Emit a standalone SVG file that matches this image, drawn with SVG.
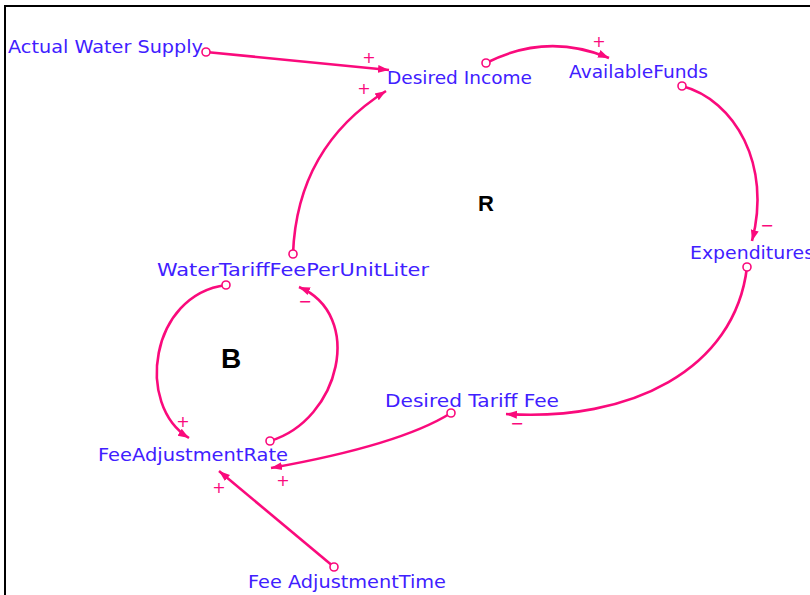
<svg xmlns="http://www.w3.org/2000/svg" width="810" height="595" viewBox="0 0 810 595">
  <style>
    .var { font-family: "DejaVu Sans", "Liberation Sans", sans-serif; font-size: 18px; fill: #4020ff; }
    .loop { font-family: "Liberation Sans", Arial, sans-serif; font-weight: bold; fill: #000; }
    .link { fill: none; stroke: #fa0a7c; stroke-width: 2.6; marker-end: url(#head); }
    .tail { fill: #fff; stroke: #fa0a7c; stroke-width: 1.6; }
    .sign { font-family: "DejaVu Sans", "Liberation Sans", sans-serif; font-size: 16px; fill: #fa0a7c; text-anchor: middle; dominant-baseline: central; }
  </style>
  <defs>
    <marker id="head" markerUnits="userSpaceOnUse" markerWidth="12" markerHeight="10" refX="11" refY="5" orient="auto">
      <path d="M0,1 L11,5 L0,9 z" fill="#fa0a7c"/>
    </marker>
  </defs>

  <rect width="810" height="595" fill="#fff"/>
  <!-- frame -->
  <path d="M5,595 V6 H810" fill="none" stroke="#000" stroke-width="2"/>

  <!-- causal links -->
  <g id="links">
    <path class="link" d="M206,52 L389,70"/>
    <path class="link" d="M293,254 Q297,147 386,91"/>
    <path class="link" d="M486,63 Q547,32 609,58"/>
    <path class="link" d="M682,86 C735,100 772,165 752,241"/>
    <path class="link" d="M747,267 C735,370 630,422 506,414"/>
    <path class="link" d="M451,413 Q400,445 271,468"/>
    <path class="link" d="M226,285 C150,295 135,405 189,438"/>
    <path class="link" d="M270,441 C340,420 365,315 299,287"/>
    <path class="link" d="M334,567 L219,471"/>

    <circle class="tail" cx="206" cy="52" r="4"/>
    <circle class="tail" cx="293" cy="254" r="4"/>
    <circle class="tail" cx="486" cy="63" r="4"/>
    <circle class="tail" cx="682" cy="86" r="4"/>
    <circle class="tail" cx="747" cy="267" r="4"/>
    <circle class="tail" cx="451" cy="413" r="4"/>
    <circle class="tail" cx="226" cy="285" r="4"/>
    <circle class="tail" cx="270" cy="441" r="4"/>
    <circle class="tail" cx="334" cy="567" r="4"/>

    <text class="sign" x="369" y="57">+</text>
    <text class="sign" x="364" y="88">+</text>
    <text class="sign" x="599" y="41">+</text>
    <text class="sign" x="767" y="225">−</text>
    <text class="sign" x="517" y="423">−</text>
    <text class="sign" x="283" y="480">+</text>
    <text class="sign" x="183" y="421">+</text>
    <text class="sign" x="305" y="301">−</text>
    <text class="sign" x="219" y="487">+</text>
  </g>

  <!-- variables -->
  <g id="actual-water-supply"><text class="var" x="8" y="53" textLength="195" lengthAdjust="spacingAndGlyphs">Actual Water Supply</text></g>
  <g id="desired-income"><text class="var" x="387" y="84" textLength="145" lengthAdjust="spacingAndGlyphs">Desired Income</text></g>
  <g id="available-funds"><text class="var" x="569" y="78" textLength="139" lengthAdjust="spacingAndGlyphs">AvailableFunds</text></g>
  <g id="expenditures"><text class="var" x="690" y="259" textLength="124" lengthAdjust="spacingAndGlyphs">Expenditures</text></g>
  <g id="water-tariff-fee"><text class="var" x="157" y="276" textLength="272" lengthAdjust="spacingAndGlyphs">WaterTariffFeePerUnitLiter</text></g>
  <g id="fee-adjustment-rate"><text class="var" x="98" y="461" textLength="190" lengthAdjust="spacingAndGlyphs">FeeAdjustmentRate</text></g>
  <g id="desired-tariff-fee"><text class="var" x="385" y="407" textLength="174" lengthAdjust="spacingAndGlyphs">Desired Tariff Fee</text></g>
  <g id="fee-adjustment-time"><text class="var" x="248" y="588" textLength="198" lengthAdjust="spacingAndGlyphs">Fee AdjustmentTime</text></g>

  <!-- loop markers -->
  <g id="loop-r"><text class="loop" x="478" y="211" font-size="22">R</text></g>
  <g id="loop-b"><text class="loop" x="221" y="368" font-size="28">B</text></g>
</svg>
